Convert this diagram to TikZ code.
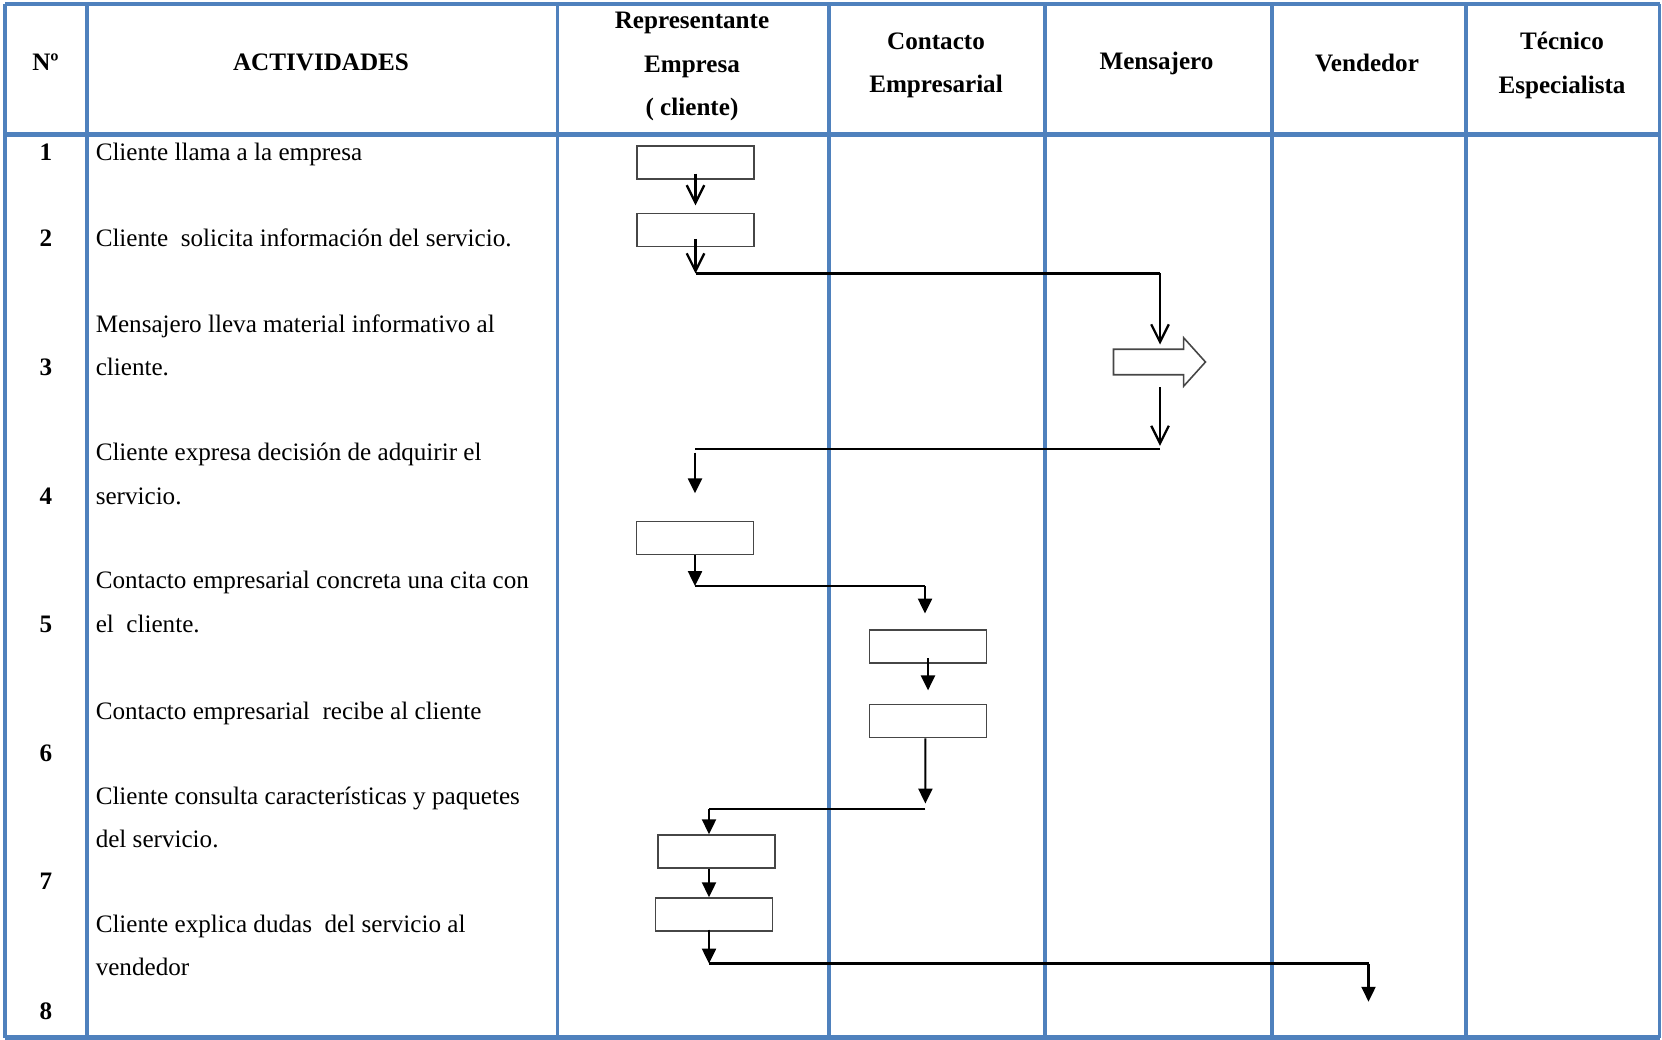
\documentclass[tikz,border=0pt]{standalone}
\usepackage{fontspec}
\setmainfont{Liberation Serif}
\usepackage{tikz}
\usetikzlibrary{arrows.meta,shapes.arrows,positioning}
\definecolor{laneblue}{RGB}{79,129,189}
\definecolor{boxgray} {RGB}{70,70,70}
\tikzset{
  lane/.style   ={draw=laneblue, line width=2.2pt},
  rule/.style   ={draw=laneblue, line width=2.6pt},
  headtxt/.style={font=\fontsize{14.3}{24.7}\selectfont\bfseries,
                  align=center, inner sep=0pt},
  acttxt/.style ={font=\fontsize{14.3}{24.7}\selectfont, align=left,
                  anchor=base west, inner sep=0pt},
  numtxt/.style ={font=\fontsize{14.3}{17}\selectfont\bfseries,
                  anchor=base, inner sep=0pt},
  actbox/.style ={draw=boxgray, line width=0.9pt, inner sep=0pt,
                  minimum width=2.34cm, minimum height=0.66cm},
  blkarr/.style ={single arrow, draw=boxgray, line width=0.9pt,
                  inner xsep=0pt, inner ysep=0.24cm, minimum height=1.84cm,
                  single arrow head extend=0.23cm, single arrow tip angle=96},
  oarr/.style   ={-{Straight Barb[length=10pt,width=10pt]}, line width=1.3pt},
  farr/.style   ={-{Triangle[length=8.5pt,width=8pt]}, line width=1.2pt},
  flow/.style   ={line width=1.2pt},
}

\begin{document}
\begin{tikzpicture}[x=0.02cm, y=-0.02cm]
\useasboundingbox (0,0) rectangle (1662,1040);

%% ─── Table grid ──────────────────────────────────────────────────────────────
\foreach \x in {5, 87, 557.5, 829, 1045, 1272, 1466, 1659.5}{
  \draw[lane] (\x,4) -- (\x,1037.5);
}
\foreach \y in {4, 134.5, 1037.5}{
  \draw[rule] (5,\y) -- (1659.5,\y);
}

%% ─── Header ──────────────────────────────────────────────────────────────────
\node[headtxt] (hno)  at (45.5, 62.5)  {Nº};
\node[headtxt] (hact) at (321, 62.5)   {ACTIVIDADES};
\node[headtxt] (hrep) at (692, 66.5)   {Representante\\Empresa\\( cliente)};
\node[headtxt] (hcon) at (936, 65.5)   {Contacto\\Empresarial};
\node[headtxt] (hmen) at (1156.5, 63.5){Mensajero};
\node[headtxt] (hven) at (1367, 62.5)  {Vendedor};
\node[headtxt] (htec) at (1562, 65.5)  {Técnico\\Especialista};

%% ─── Rows ────────────────────────────────────────────────────────────────────
\foreach \i/\y in {1/160.6, 2/246.4, 3/375.8, 4/504, 5/632, 6/761.6, 7/889.9, 8/1019.2}{
  \node[numtxt] (n\i) at (46,\y) {\i};
}
\node[acttxt] (a1) at (95.4,160.6) {Cliente llama a la empresa};
\node[acttxt] (a2) at (95.4,246.4) {Cliente\ \ solicita información del servicio.};
\node[acttxt] (a3) at (95.4,375.8) {Mensajero lleva material informativo al\\cliente.};
\node[acttxt] (a4) at (95.4,504)   {Cliente expresa decisión de adquirir el\\servicio.};
\node[acttxt] (a5) at (95.4,632)   {Contacto empresarial concreta una cita con\\el\ \ cliente.};
\node[acttxt] (a6) at (95.4,719)   {Contacto empresarial\ \ recibe al cliente};
\node[acttxt] (a7) at (95.4,847.5) {Cliente consulta características y paquetes\\del servicio.};
\node[acttxt] (a8) at (95.4,975.7) {Cliente explica dudas\ \ del servicio al\\vendedor};

%% ─── Flow shapes ─────────────────────────────────────────────────────────────
\node[actbox] (b1) at (695.5,162.5) {};
\node[actbox] (b2) at (695.5,230)   {};
\node[blkarr] (m3) at (1153.7,362)  {};
\node[actbox] (b3) at (695,538)     {};
\node[actbox] (b4) at (928,646.6)   {};
\node[actbox] (b5) at (928,721)     {};
\node[actbox] (b6) at (716.5,851.5) {};
\node[actbox] (b7) at (714,914.5)   {};

\coordinate (j2)  at (695.5,273.5);
\coordinate (j2r) at (1160,273.5);
\coordinate (m3i) at (1160,344.5);
\coordinate (m3o) at (1160,387);
\coordinate (j4r) at (1160,449.4);
\coordinate (j4)  at (695,449.4);
\coordinate (j5)  at (695,586);
\coordinate (j5r) at (925,586);
\coordinate (b4i) at (925,613.5);
\coordinate (j6r) at (925.4,808.8);
\coordinate (j6)  at (709,808.8);
\coordinate (j8)  at (709,963.5);
\coordinate (j8r) at (1368.5,963.5);
\coordinate (v8)  at (1368.5,1001.7);

%% ─── Connectors ──────────────────────────────────────────────────────────────
\draw[oarr] ([yshift=3.5pt]b1.south) -- ([yshift=4.2pt]b2.north);
\draw[oarr] ([yshift=4.8pt]b2.south) -- (j2);
\draw[flow] (j2) -- (j2r);
\draw[oarr] (j2r) -- (m3i);
\draw[oarr] (m3o) -- ([yshift=2pt]j4r);
\draw[flow] (j4r) -- (j4);
\draw[farr] ([yshift=-1.8pt]j4) -- ([yshift=15.6pt]b3.north);
\draw[farr] (b3.south) -- (j5);
\draw[flow] (j5) -- (j5r);
\draw[farr] (j5r) -- (b4i);
\draw[farr] ([yshift=3.2pt]b4.south) -- ([yshift=7.6pt]b5.north);
\draw[farr] ([xshift=-1.5pt]b5.south) -- ([yshift=3pt]j6r);
\draw[flow] (j6r) -- (j6);
\draw[farr] (j6) -- (j6 |- b6.north);
\draw[farr] (j6 |- b6.south) -- (j6 |- b7.north);
\draw[farr] ([yshift=1.3pt]j6 |- b7.south) -- (j8);
\draw[flow] (j8) -- (j8r);
\draw[farr] (j8r) -- (v8);

\end{tikzpicture}
\end{document}
